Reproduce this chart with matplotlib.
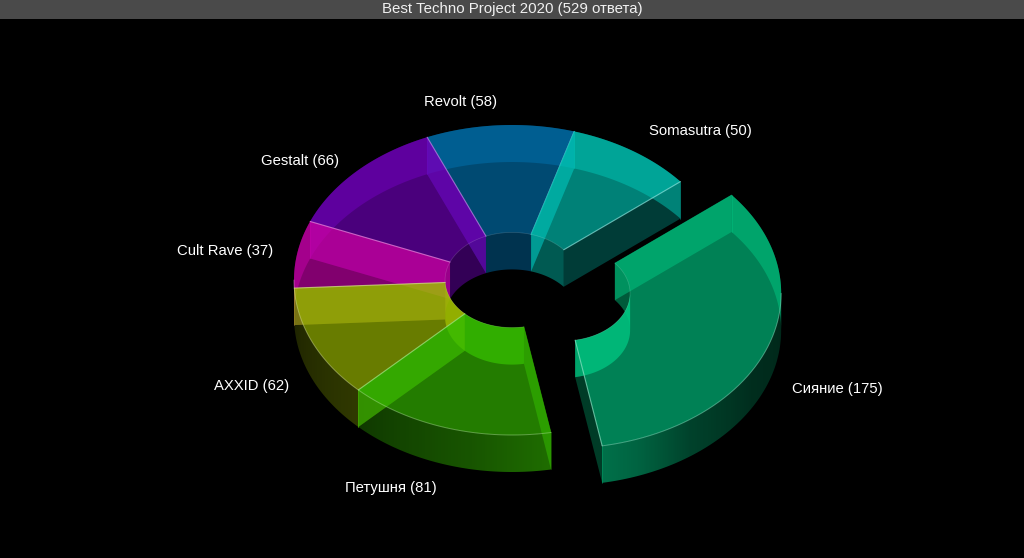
# 3D glass donut of the Best Techno Project 2020 poll
import numpy as np
import matplotlib
matplotlib.use("Agg")
import matplotlib.pyplot as plt
from matplotlib.patches import Polygon, Rectangle

plt.rcParams['font.family'] = ['Liberation Sans', 'DejaVu Sans']

# clockwise from the start angle
names = ['Сияние', 'Петушня', 'AXXID', 'Cult Rave', 'Gestalt', 'Revolt', 'Somasutra']
votes = [175, 81, 62, 37, 66, 58, 50]
explode = [0.25, 0, 0, 0, 0, 0, 0]
colors = ['#00c883', '#36c000', '#a1c000', '#c800aa', '#7300c0', '#0073b1', '#00c8b8']
title = 'Best Techno Project 2020 (529 ответа)'

# layout in pixels
cx, cy = 512, 280
rx, ry = 218, 155
inner = 0.307
depth = 37
start_angle = 39.4
top_alpha = 0.65
label_pos = [(837, 389), (391, 488), (252, 386), (225, 251), (300, 161), (461, 102), (700, 131)]

fig = plt.figure(figsize=(10.24, 5.58), dpi=100, facecolor='black')
ax = fig.add_axes([0, 0, 1, 1])
ax.set_facecolor('black')
ax.axis('off')
z = [1]


def arc(t0, t1, scale, off, dz=0):
    th = np.radians(np.linspace(t0, t1, max(int(abs(t1 - t0) * 2), 2)))
    return np.column_stack((cx + off[0] + scale * rx * np.cos(th),
                            cy + off[1] - scale * ry * np.sin(th) + dz))


def add_poly(pts, col, alpha):
    z[0] += 1
    p = Polygon(pts, closed=True, facecolor=(*col, alpha), edgecolor='none', zorder=z[0])
    ax.add_patch(p)
    return p


def wall(t0, t1, scale, off, col, alpha):
    top = arc(t0, t1, scale, off)
    add_poly(np.vstack((top, top[::-1] + [0, depth])), col, alpha)


def front_shade(x, off):
    # outer wall is brightest a little right of the viewer, dim at the sides
    c = np.clip((x - cx - off[0]) / rx, -1, 1)
    th = -np.degrees(np.arccos(c))
    return np.interp(th, [-180, -135, -100, -80, -70, -54, -30, 0],
                     [0.18, 0.30, 0.45, 0.57, 0.50, 0.33, 0.23, 0.20])


def gradient_wall(t0, t1, off, col):
    top = arc(t0, t1, 1, off)
    pts = np.vstack((top, top[::-1] + [0, depth]))
    x0, x1 = int(pts[:, 0].min()) - 1, int(pts[:, 0].max()) + 2
    y0, y1 = pts[:, 1].min() - 1, pts[:, 1].max() + 1
    xs = np.arange(x0, x1) + 0.5
    rgba = np.ones((1, len(xs), 4))
    rgba[..., :3] = col
    rgba[..., 3] = front_shade(xs, off)
    z[0] += 1
    im = ax.imshow(rgba, extent=(x0, x1, y1, y0), aspect='auto',
                   interpolation='nearest', zorder=z[0])
    im.set_clip_path(Polygon(pts, closed=True, transform=ax.transData))


def edge(pts, col, alpha, lw):
    z[0] += 1
    ax.plot(pts[:, 0], pts[:, 1], color=col, alpha=alpha, lw=lw, zorder=z[0],
            solid_capstyle='round')


spans = np.array(votes) / sum(votes) * 360
ends = start_angle - np.cumsum(spans)
starts = ends + spans
mids = (starts + ends) / 2

# back slices first so the glass faces stack up
order = np.argsort(-np.sin(np.radians(mids)))
for i in order:
    t0, t1, col = starts[i], ends[i], matplotlib.colors.to_rgb(colors[i])
    m = np.radians(mids[i])
    off = (explode[i] * rx * np.cos(m), -explode[i] * ry * np.sin(m))
    light = tuple(0.45 * c + 0.55 for c in col)

    # back part of the outer wall
    if t0 > 0:
        wall(t0, max(t1, 0), 1, off, col, 0.5)
    if t1 < -180:
        wall(min(t0, -180), t1, 1, off, col, 0.5)

    # inner wall, split where it turns away
    for a, b, alpha in [(t0, max(t1, 0), 0.45), (min(t0, 0), max(t1, -180), 0.75),
                        (min(t0, -180), t1, 0.45)]:
        if a > b:
            wall(a, b, inner, off, col, alpha)

    # radial cut faces
    for t, sign in [(t0, -1), (t1, 1)]:
        face = np.vstack((arc(t, t, inner, off)[:1], arc(t, t, 1, off)[:1]))
        pts = np.vstack((face, face[::-1] + [0, depth]))
        is_front = sign * np.cos(np.radians(t)) > 0
        add_poly(pts, col, 0.3 if is_front else 0.5)
        edge(pts[[1, 2]], col, 0.5, 0.5)

    # front part of the outer wall with its shading
    if min(t0, 0) > max(t1, -180):
        gradient_wall(min(t0, 0), max(t1, -180), off, col)

    # top face
    add_poly(np.vstack((arc(t0, t1, 1, off), arc(t1, t0, inner, off))), col, top_alpha)

    # thin light rims
    edge(arc(t0, t1, inner, off), light, 0.3, 0.5)
    edge(np.vstack((arc(t0, t0, inner, off)[:1], arc(t0, t0, 1, off)[:1])), col, 0.5, 0.5)
    edge(np.vstack((arc(t1, t1, inner, off)[:1], arc(t1, t1, 1, off)[:1])), light, 0.7, 0.8)
    if min(t0, 0) > max(t1, -180):
        edge(arc(min(t0, 0), max(t1, -180), 1, off), light, 0.5, 0.7)

ax.set_xlim(0, 1024)
ax.set_ylim(558, 0)

for name, n, (x, y) in zip(names, votes, label_pos):
    ax.text(x, y, f'{name} ({n})', color='white', fontsize=10.7,
            ha='center', va='center', zorder=900)

ax.add_patch(Rectangle((0, 0), 1024, 19, facecolor='#4a4a4a', edgecolor='none', zorder=901))
ax.text(512, 9.5, title, color='#f0f0f0', fontsize=10.8, ha='center', va='center', zorder=902)

fig.savefig('out.png', dpi=100, facecolor='black')
